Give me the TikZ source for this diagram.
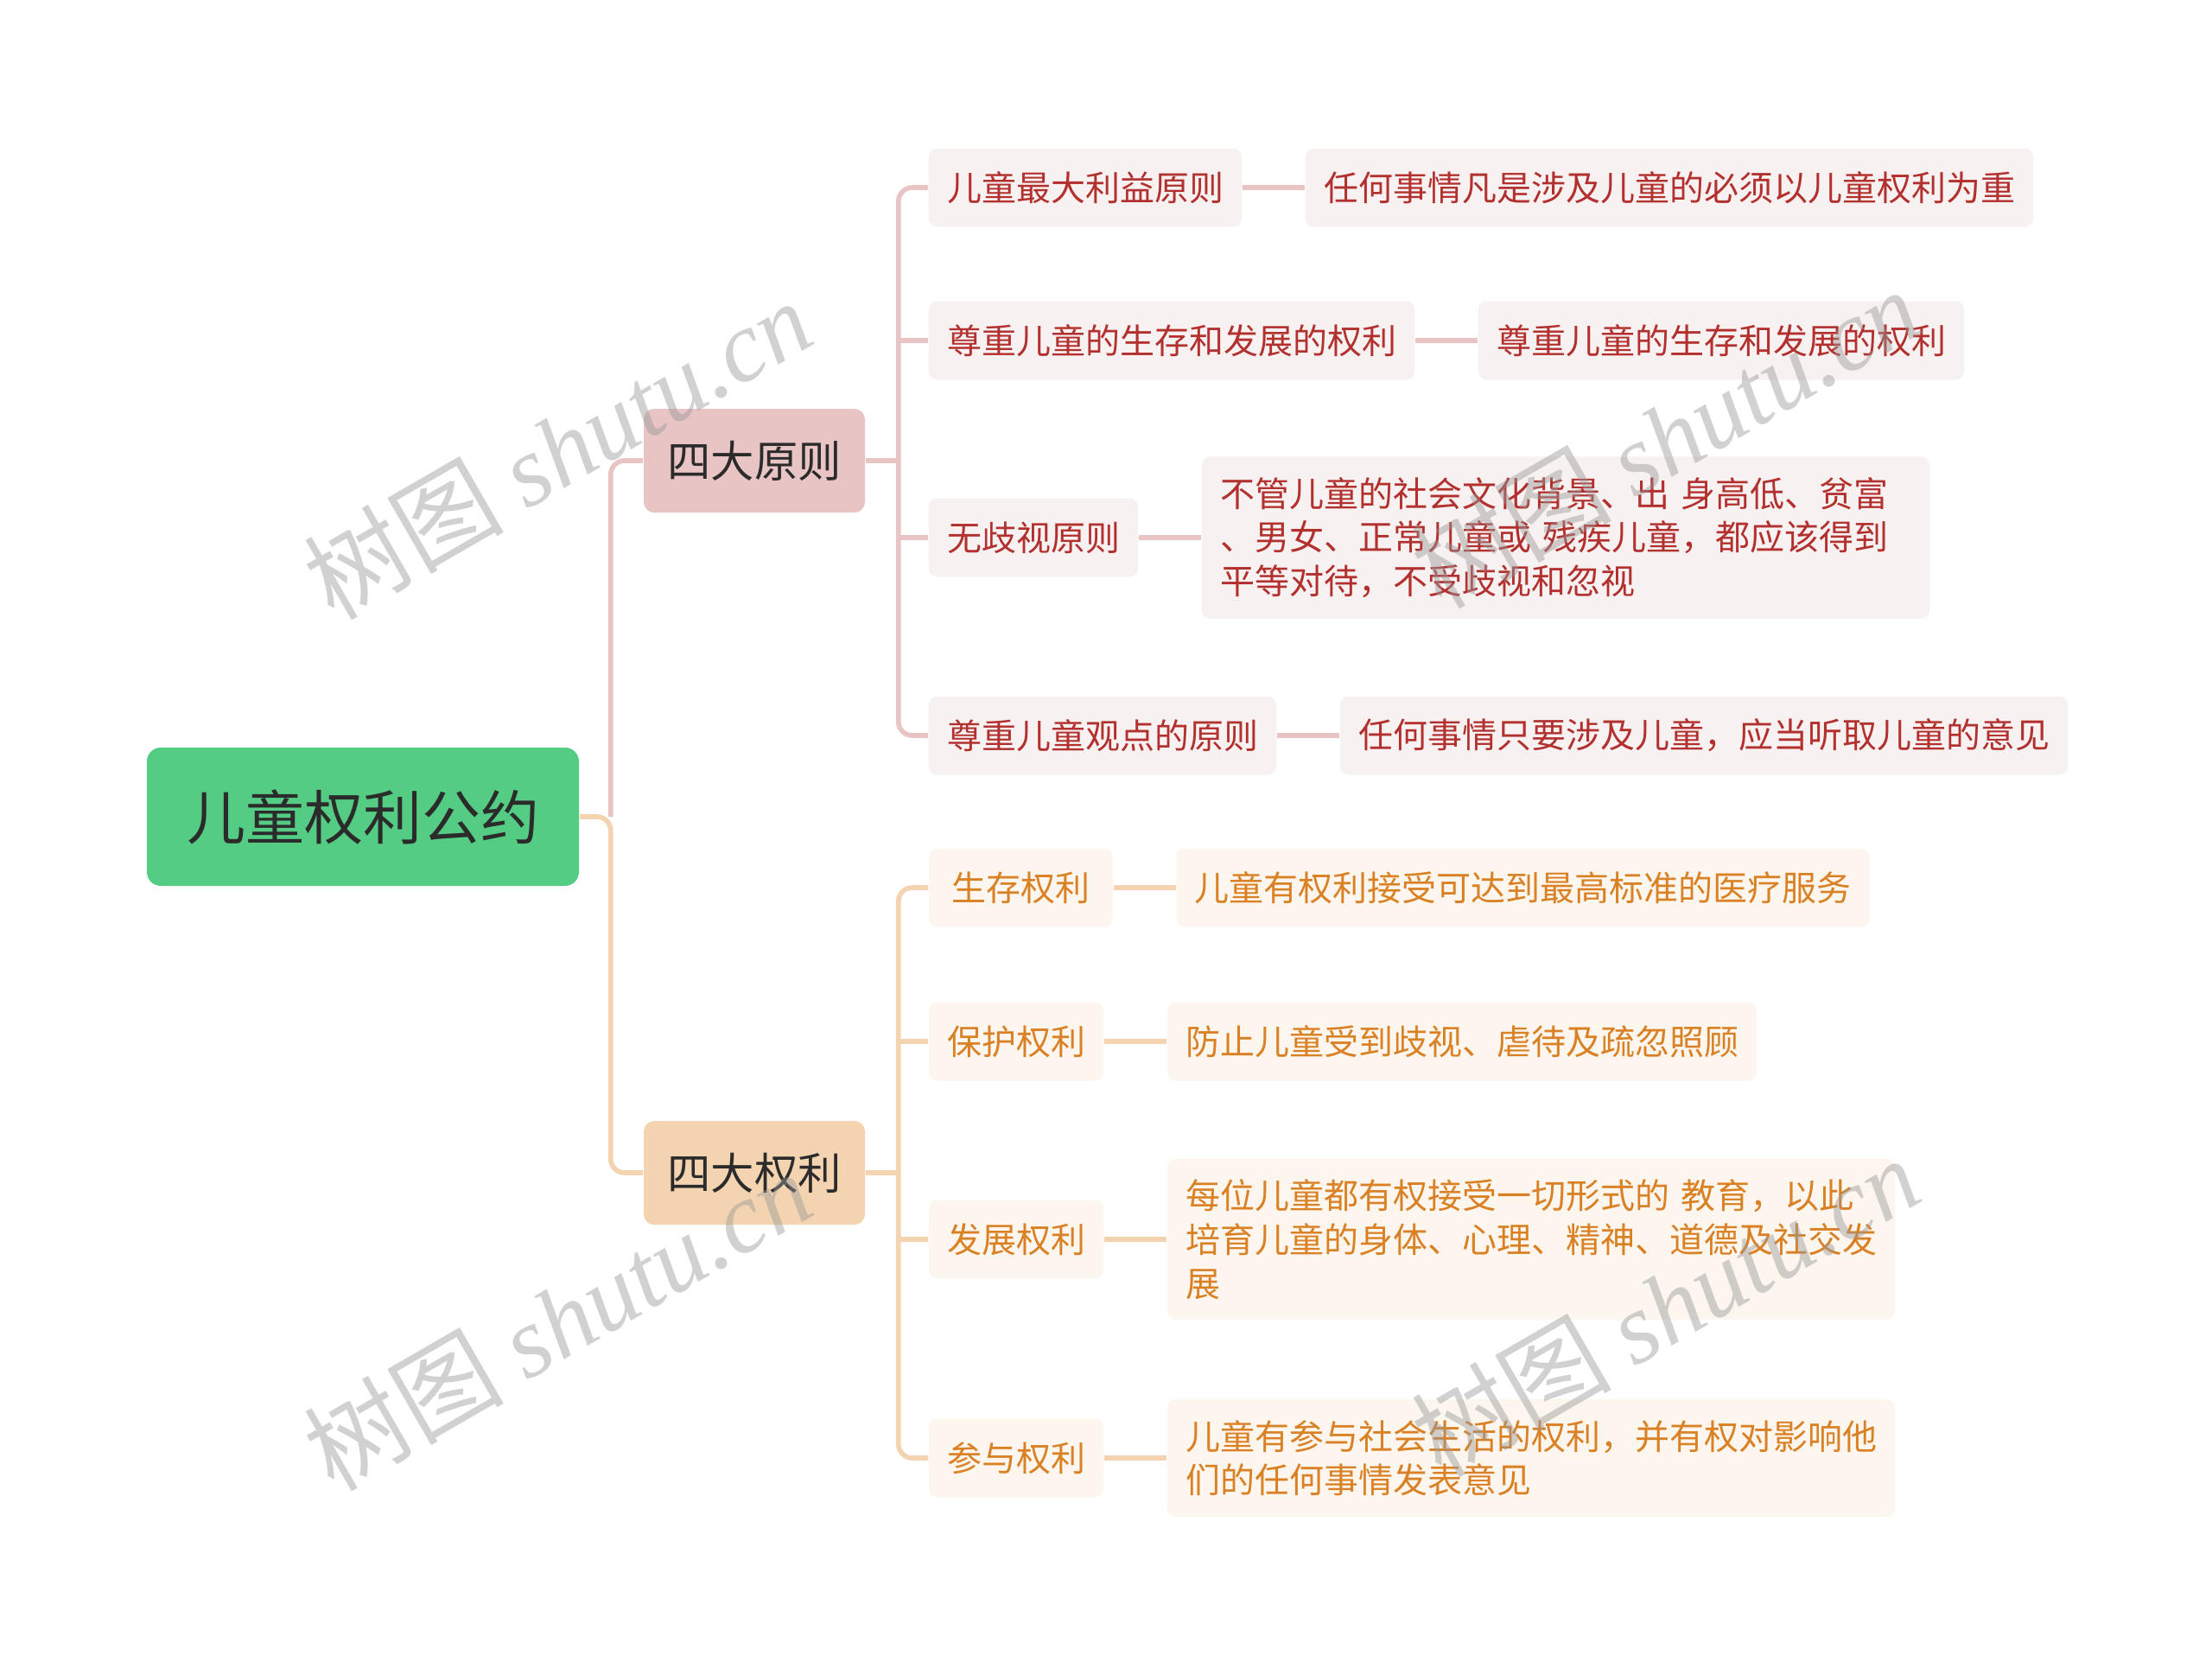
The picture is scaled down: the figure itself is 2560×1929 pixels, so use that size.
\documentclass[tikz,border=0pt]{standalone}
\usepackage{fontspec}
\setmainfont{Noto Sans CJK SC}
\newfontfamily\wmserif{Liberation Serif}
\usetikzlibrary{positioning}

\definecolor{rootgreen}{HTML}{54CC84}
\definecolor{rootink}{HTML}{2B2B2B}
\definecolor{pinkmain}{HTML}{E8C4C4}
\definecolor{pinkleaf}{HTML}{F8F1F1}
\definecolor{pinkink}{HTML}{B2302E}
\definecolor{peachmain}{HTML}{F4D4B0}
\definecolor{peachleaf}{HTML}{FDF6EE}
\definecolor{peachink}{HTML}{D98124}

\begin{document}
\begin{tikzpicture}[x=0.25pt, y=-0.25pt, node distance=18pt,
  root/.style = {fill=rootgreen, text=rootink, rounded corners=4pt, minimum width=125pt, minimum height=40pt, font=\fontsize{17}{20}\selectfont},
  topic/.style = {rounded corners=3pt, text=rootink, minimum width=64pt, minimum height=30pt, font=\fontsize{12.6}{15}\selectfont},
  sub/.style = {rounded corners=2.5pt, inner xsep=5.3pt, inner ysep=6pt, minimum height=22.75pt, align=left, font=\fontsize{10}{12.65}\selectfont},
  psub/.style = {sub, fill=pinkleaf, text=pinkink},
  osub/.style = {sub, fill=peachleaf, text=peachink},
  pline/.style = {draw=pinkmain, line width=1.4pt},
  oline/.style = {draw=peachmain, line width=1.4pt},
  watermark/.style = {rotate=30, text=black!40, opacity=0.45, font=\fontsize{29}{33}\selectfont}]
  \useasboundingbox (0,0) rectangle (2560,1929);

  % centre and the two main topics
  \node[root] (conv) at (420,945) {儿童权利公约};
  \node[topic, fill=pinkmain] (prin) at (873,533) {四大原则};
  \node[topic, fill=peachmain] (rights) at (873,1357) {四大权利};

  % principles
  \node[psub, anchor=west] (p1) at (1074,217) {儿童最大利益原则};
  \node[psub, anchor=west] (p2) at (1074,394) {尊重儿童的生存和发展的权利};
  \node[psub, anchor=west] (p3) at (1074,622) {无歧视原则};
  \node[psub, anchor=west] (p4) at (1074,851) {尊重儿童观点的原则};
  \node[psub] (p1d) [right=of p1] {任何事情凡是涉及儿童的必须以儿童权利为重};
  \node[psub] (p2d) [right=of p2] {尊重儿童的生存和发展的权利};
  \node[psub, text width=200pt] (p3d) [right=of p3] {不管儿童的社会文化背景、出 身高低、贫富\\、男女、正常儿童或 残疾儿童，都应该得到\\平等对待，不受歧视和忽视};
  \node[psub] (p4d) [right=of p4] {任何事情只要涉及儿童，应当听取儿童的意见};

  % rights
  \node[osub, anchor=west, minimum width=53.25pt] (r1) at (1074,1027) {生存权利};
  \node[osub, anchor=west] (r2) at (1074,1205) {保护权利};
  \node[osub, anchor=west] (r3) at (1074,1434) {发展权利};
  \node[osub, anchor=west] (r4) at (1074,1687) {参与权利};
  \node[osub] (r1d) [right=of r1] {儿童有权利接受可达到最高标准的医疗服务};
  \node[osub] (r2d) [right=of r2] {防止儿童受到歧视、虐待及疏忽照顾};
  \node[osub, text width=200pt] (r3d) [right=of r3] {每位儿童都有权接受一切形式的 教育，以此\\培育儿童的身体、心理、精神、道德及社交发\\展};
  \node[osub, text width=200pt] (r4d) [right=of r4] {儿童有参与社会生活的权利，并有权对影响他\\们的任何事情发表意见};

  \coordinate[right=9pt of conv.east] (cb);
  \coordinate[right=9.5pt of prin.east] (pb);
  \coordinate[right=9.5pt of rights.east] (rb);

  \draw[pline, rounded corners=4pt] (cb) |- (prin.west);
  \draw[oline, rounded corners=4pt] (conv.east) -- (cb) |- (rights.west);

  \draw[pline] (prin.east) -- (pb);
  \draw[pline, rounded corners=4pt] (p1.west) -| (pb) |- (p4.west);
  \draw[pline] (pb |- p2.west) -- (p2.west);
  \draw[pline] (pb |- p3.west) -- (p3.west);
  \draw[oline] (rights.east) -- (rb);
  \draw[oline, rounded corners=4pt] (r1.west) -| (rb) |- (r4.west);
  \draw[oline] (rb |- r2.west) -- (r2.west);
  \draw[oline] (rb |- r3.west) -- (r3.west);

  \path
    (p1) edge[pline] (p1d)
    (p2) edge[pline] (p2d)
    (p3) edge[pline] (p3d)
    (p4) edge[pline] (p4d)
    (r1) edge[oline] (r1d)
    (r2) edge[oline] (r2d)
    (r3) edge[oline] (r3d)
    (r4) edge[oline] (r4d);

  % watermarks
  \node[watermark] (wm1) at (645,519) {树图 {\wmserif\itshape shutu.cn}};
  \node[watermark] (wm2) at (1927,506) {树图 {\wmserif\itshape shutu.cn}};
  \node[watermark] (wm3) at (645,1527) {树图 {\wmserif\itshape shutu.cn}};
  \node[watermark] (wm4) at (1927,1511) {树图 {\wmserif\itshape shutu.cn}};
\end{tikzpicture}
\end{document}
